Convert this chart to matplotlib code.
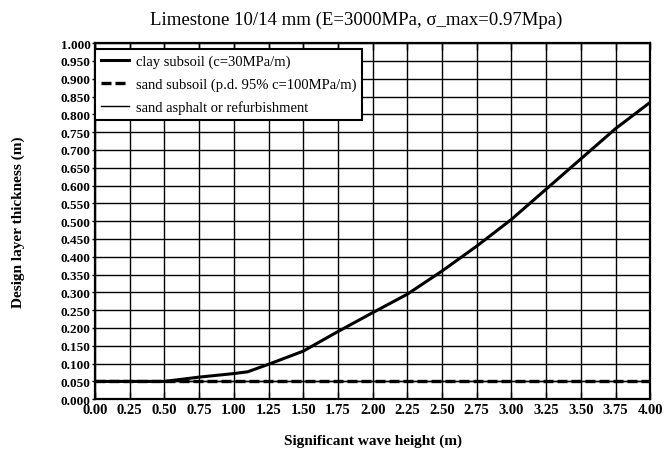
import numpy as np
import matplotlib.pyplot as plt
from matplotlib.ticker import MultipleLocator, FormatStrFormatter

plt.rcParams['font.family'] = ['Liberation Serif', 'DejaVu Serif']

# wave height (m)
wave_height = [0.0, 0.25, 0.5, 0.75, 1.0, 1.1, 1.25, 1.5, 1.75, 2.0,
               2.25, 2.5, 2.75, 3.0, 3.25, 3.5, 3.75, 4.0]
# design layer thickness (m)
clay = [0.05, 0.05, 0.05, 0.062, 0.072, 0.077, 0.098, 0.135, 0.19, 0.243,
        0.295, 0.36, 0.43, 0.505, 0.59, 0.675, 0.76, 0.834]
sand = [0.05] * len(wave_height)
asphalt = [0.05] * len(wave_height)

labels = ["clay subsoil (c=30MPa/m)",
          "sand subsoil (p.d. 95% c=100MPa/m)",
          "sand asphalt or refurbishment"]

fig = plt.figure(figsize=(6.69, 4.60), dpi=100)
ax = fig.add_axes([0.142, 0.130, 0.830, 0.774])

l3, = ax.plot(wave_height, asphalt, color="black", lw=1.0, zorder=3)
l1, = ax.plot(wave_height, clay, color="black", lw=2.2, zorder=4)
l2, = ax.plot(wave_height, sand, color="black", lw=2.4, ls=(0, (3, 1.2)), zorder=5)

ax.set_xlim(0, 4)
ax.set_ylim(0, 1)
ax.xaxis.set_major_locator(MultipleLocator(0.25))
ax.yaxis.set_major_locator(MultipleLocator(0.05))
ax.xaxis.set_major_formatter(FormatStrFormatter("%.2f"))
ax.yaxis.set_major_formatter(FormatStrFormatter("%.3f"))
ax.tick_params(axis="x", direction="in", top=True, length=5, width=1,
               labelsize=10.5, pad=3)
ax.tick_params(axis="y", direction="out", length=2, width=1,
               labelsize=9.5, pad=1)
for lab in ax.get_xticklabels() + ax.get_yticklabels():
    lab.set_fontweight("bold")

ax.grid(True, color="black", lw=1.0)
for s in ax.spines.values():
    s.set_linewidth(1.6)

ax.set_title("Limestone 10/14 mm (E=3000MPa, σ_max=0.97Mpa)", fontsize=13.5, pad=14,
             x=0.47)
ax.set_xlabel("Significant wave height (m)", fontsize=11, fontweight="bold", labelpad=12)
ax.set_ylabel("Design layer thickness (m)", fontsize=11, fontweight="bold", labelpad=26)

leg = ax.legend([l1, l2, l3], labels, loc="upper left", bbox_to_anchor=(0.0, 0.985),
                fontsize=10.5, frameon=True, fancybox=False, framealpha=1,
                edgecolor="black", borderpad=0.4, labelspacing=0.65,
                handlelength=1.9, handletextpad=0.5, borderaxespad=0.0)
leg.get_frame().set_linewidth(1.5)
leg.set_zorder(10)

fig.savefig("out.png", dpi=100)
